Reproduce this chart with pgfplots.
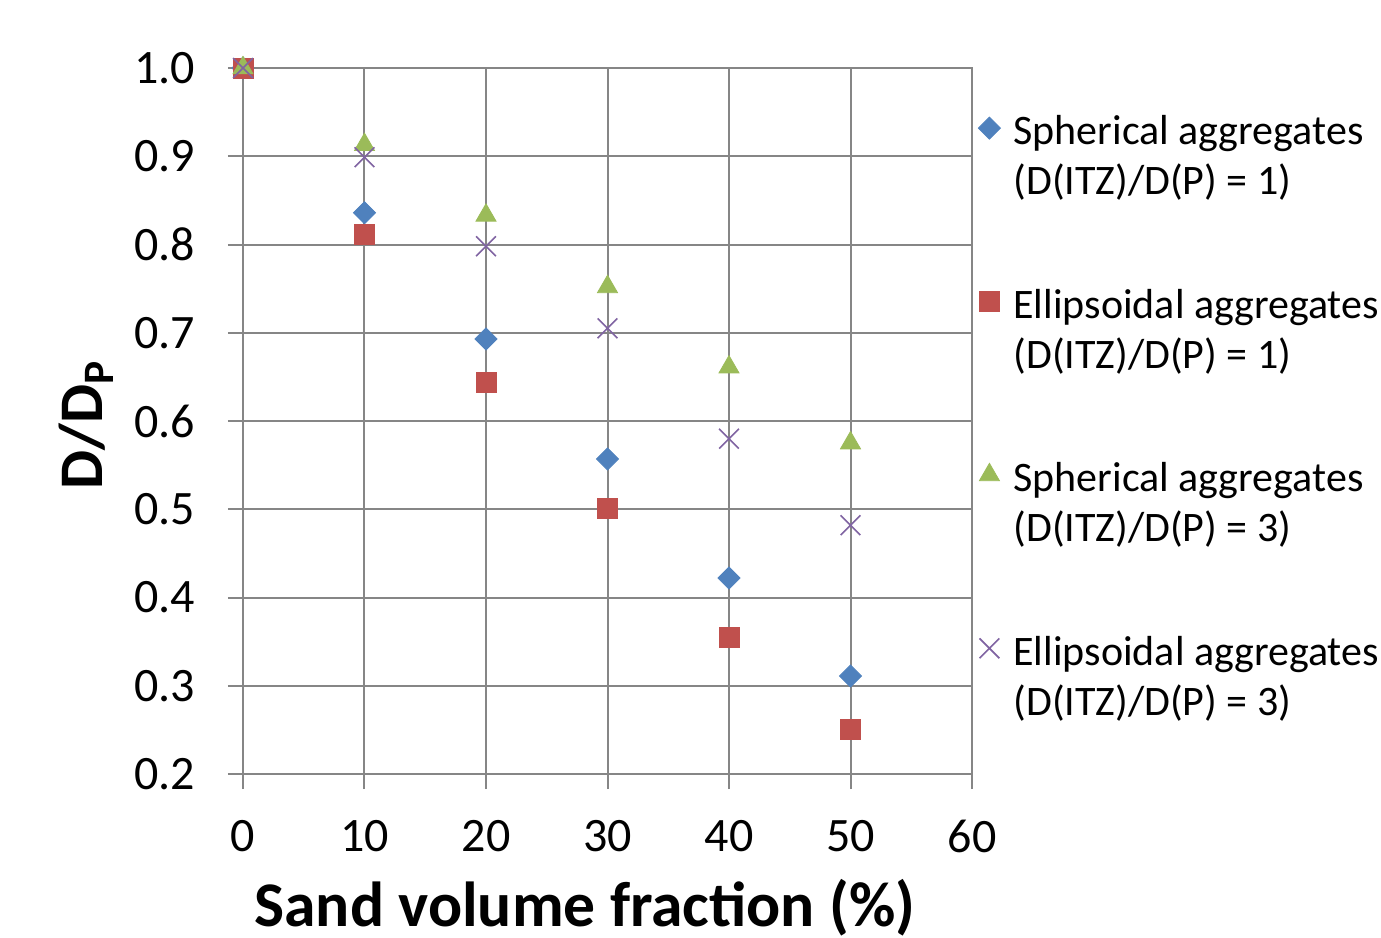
\documentclass[border=0pt]{standalone}
\usepackage{pgfplots}
\pgfplotsset{compat=1.18}
\usepackage{fontspec}
\setmainfont{Carlito}
\definecolor{gridgray}{RGB}{134,134,134}
\definecolor{sblue}{RGB}{79,129,189}
\definecolor{ered}{RGB}{192,80,77}
\definecolor{sgreen}{RGB}{155,187,89}
\definecolor{epurple}{RGB}{128,100,162}
\newcommand{\twolines}[2]{\begin{tabular}[t]{@{}l@{}}#1\\[-1pt]#2\end{tabular}}
\begin{document}
\begin{tikzpicture}
\useasboundingbox (-121.5pt,-81.5pt) rectangle (569pt,387pt);
\begin{axis}[
  at={(0,0)}, anchor=south west,
  scale only axis, width=364.5pt, height=353pt,
  xmin=0, xmax=60, ymin=0.2, ymax=1.0,
  xtick={0,10,20,30,40,50,60},
  ytick={0.2,0.3,0.4,0.5,0.6,0.7,0.8,0.9,1.0},
  grid=major,
  major grid style={gridgray, line width=1pt},
  axis line style={gridgray, line width=1pt},
  tick style={gridgray, line width=1pt},
  tick align=outside, major tick length=7.5pt,
  xtick pos=left, ytick pos=left,
  ticklabel style={font=\fontsize{24}{28}\selectfont},
  /pgf/number format/assume math mode=true,
  yticklabel style={xshift=-13pt, /pgf/number format/.cd, fixed, fixed zerofill, precision=1},
  xticklabel style={yshift=-12pt},
  every axis x label/.style={at={(axis description cs:0.469,0)}, anchor=base, yshift=-76pt, font=\fontsize{31.8}{37}\selectfont\bfseries},
  every axis y label/.style={at={([xshift=-70pt,yshift=-2pt]axis description cs:0,0.5)}, rotate=90, anchor=base, font=\fontsize{31}{37}\selectfont\bfseries},
  xlabel={Sand volume fraction (\%)},
  ylabel={D/D\textsubscript{P}},
  legend style={at={(axis description cs:1,1)}, anchor=north west, draw=none, fill=none,
    xshift=0pt, yshift=-16pt, font=\fontsize{21}{26}\selectfont, row sep=63pt, column sep=4.5pt},
  legend cell align=left,
]
\addplot[only marks, mark=square*, mark size=3.9pt, mark options={rotate=45, fill=sblue, draw=sblue}] coordinates {
 (0,1.0) (10,0.836) (20,0.693) (30,0.557) (40,0.422) (50,0.311)};
\addlegendentry{\twolines{Spherical aggregates}{(D(ITZ)/D(P) = 1)}}
\addplot[only marks, mark=square*, mark size=5pt, mark options={fill=ered, draw=ered}] coordinates {
 (0,1.0) (10,0.812) (20,0.644) (30,0.501) (40,0.355) (50,0.251)};
\addlegendentry{\twolines{Ellipsoidal aggregates}{(D(ITZ)/D(P) = 1)}}
\addplot[only marks, mark=triangle*, mark size=5.8pt, mark options={fill=sgreen, draw=sgreen}] coordinates {
 (0,1.0) (10,0.913) (20,0.833) (30,0.752) (40,0.661) (50,0.575)};
\addlegendentry{\twolines{Spherical aggregates}{(D(ITZ)/D(P) = 3)}}
\addplot[only marks, mark=x, mark size=7pt, mark options={draw=epurple, line width=0.8pt}] coordinates {
 (0,1.0) (10,0.899) (20,0.798) (30,0.705) (40,0.580) (50,0.482)};
\addlegendentry{\twolines{Ellipsoidal aggregates}{(D(ITZ)/D(P) = 3)}}
\end{axis}
\end{tikzpicture}
\end{document}
